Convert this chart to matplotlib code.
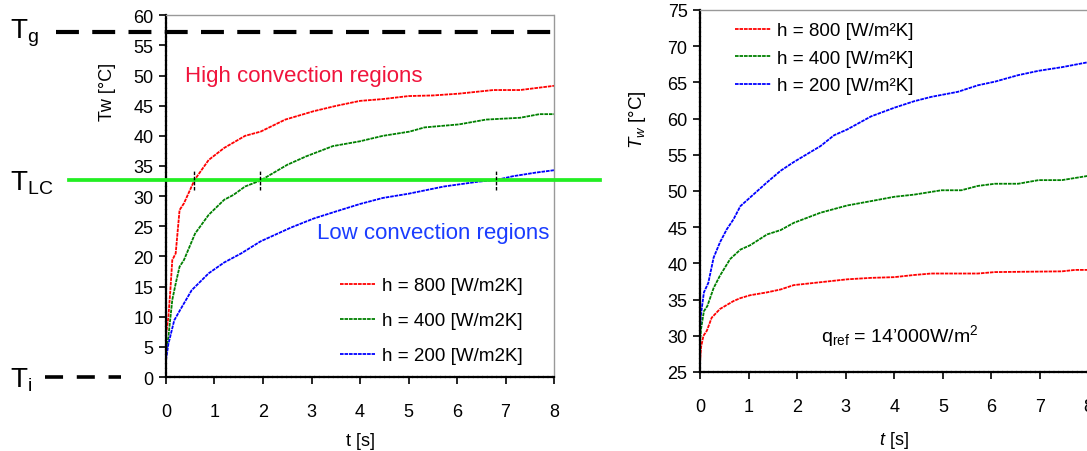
import numpy as np
import matplotlib
matplotlib.use('Agg')
import matplotlib.pyplot as plt

plt.rcParams['font.family'] = ['Liberation Sans', 'DejaVu Sans']
plt.rcParams['mathtext.fontset'] = 'custom'
plt.rcParams['mathtext.rm'] = 'Liberation Sans'
plt.rcParams['mathtext.it'] = 'Liberation Sans:italic'

# --- left: wall temperature vs time, three convection coefficients
t_800_l = [0, 0.05, 0.09, 0.13, 0.2, 0.28, 0.37, 0.59, 0.88, 1.2, 1.63, 1.95, 2.46,
           3.05, 3.52, 4.0, 4.47, 5.0, 5.5, 6.04, 6.75, 7.3, 8.0]
T_800_l = [7.0, 10.0, 14.4, 19.4, 20.5, 27.7, 28.8, 32.7, 36.0, 38.0, 40.0, 40.7, 42.7,
           44.1, 45.0, 45.8, 46.1, 46.6, 46.7, 47.0, 47.6, 47.6, 48.3]
t_400_l = [0, 0.05, 0.13, 0.2, 0.28, 0.37, 0.6, 0.88, 1.2, 1.39, 1.63, 1.95, 2.5, 2.89,
           3.44, 4.0, 4.47, 5.02, 5.33, 6.04, 6.6, 7.3, 7.7, 8.0]
T_400_l = [3.9, 6.7, 12.8, 15.5, 18.3, 19.4, 23.8, 26.9, 29.4, 30.2, 31.6, 32.6, 35.2, 36.6,
           38.3, 39.1, 40.0, 40.7, 41.4, 41.9, 42.7, 43.0, 43.6, 43.6]
t_200_l = [0, 0.05, 0.17, 0.29, 0.53, 0.88, 1.2, 1.55, 1.95, 2.58, 3.05, 3.52, 4.0, 4.47,
           5.0, 5.73, 6.44, 6.82, 7.15, 7.62, 8.0]
T_200_l = [2.8, 5.5, 9.4, 11.1, 14.4, 17.2, 19.0, 20.5, 22.5, 24.8, 26.3, 27.5, 28.7, 29.7,
           30.4, 31.6, 32.4, 32.7, 33.3, 33.9, 34.3]

T_g = 57.3
T_LC = 32.7
T_i = 0.0
t_cross = [0.58, 1.93, 6.8]

# --- right: constant heat flux case
t_800_r = [0, 0.02, 0.07, 0.14, 0.24, 0.41, 0.69, 0.83, 1.03, 1.38, 1.66, 1.93, 2.48, 3.03,
           3.52, 4.0, 4.41, 4.76, 5.72, 6.07, 7.45, 7.72, 8.0]
T_800_r = [26.3, 28.4, 30.0, 30.7, 32.5, 33.7, 34.8, 35.2, 35.6, 36.0, 36.4, 37.0, 37.4, 37.8,
           38.0, 38.1, 38.4, 38.6, 38.6, 38.8, 38.9, 39.1, 39.1]
t_400_r = [0, 0.02, 0.08, 0.15, 0.28, 0.41, 0.62, 0.83, 1.03, 1.38, 1.66, 1.93, 2.48, 3.03,
           3.52, 4.0, 4.41, 4.97, 5.38, 5.72, 6.07, 6.55, 6.97, 7.45, 8.0]
T_400_r = [29.0, 30.9, 33.4, 34.1, 36.6, 38.3, 40.6, 41.9, 42.5, 44.0, 44.6, 45.6, 47.0, 48.0,
           48.6, 49.2, 49.5, 50.1, 50.1, 50.7, 51.0, 51.0, 51.5, 51.5, 52.1]
t_200_r = [0, 0.02, 0.08, 0.17, 0.28, 0.41, 0.55, 0.69, 0.83, 1.03, 1.38, 1.66, 1.93, 2.48,
           2.76, 3.03, 3.52, 4.0, 4.41, 4.76, 5.31, 5.72, 6.07, 6.55, 6.97, 7.45, 8.0]
T_200_r = [30.9, 33.0, 36.0, 37.3, 40.8, 42.9, 44.7, 46.1, 47.9, 49.1, 51.2, 52.8, 54.0, 56.2,
           57.7, 58.5, 60.3, 61.5, 62.4, 63.0, 63.7, 64.6, 65.1, 66.0, 66.6, 67.1, 67.8]

labels_l = ['h = 800 [W/m2K]', 'h = 400 [W/m2K]', 'h = 200 [W/m2K]']
labels_r = ['h = 800 [W/m²K]', 'h = 400 [W/m²K]', 'h = 200 [W/m²K]']
colors = ['#ff0000', '#008000', '#0000ff']
ls_curve = (0, (2.0, 0.5))


def style_axes(ax):
    for s in ['left', 'bottom']:
        ax.spines[s].set_color('black')
        ax.spines[s].set_linestyle((0, (1.5, 0.6)))
        ax.spines[s].set_linewidth(1.6)
    for s in ['top', 'right']:
        ax.spines[s].set_color('#999999')
        ax.spines[s].set_linestyle((0, (1, 1)))
        ax.spines[s].set_linewidth(1.0)
    ax.tick_params(direction='out', length=5, width=1.2, labelsize=13, color='black')
    ax.tick_params(axis='x', pad=14)
    ax.tick_params(axis='y', pad=4)


fig = plt.figure(figsize=(10.87, 4.52), dpi=100)

ax1 = fig.add_axes([0.1527, 0.1637, 0.357, 0.8003])
for t, T, c, lab in zip([t_800_l, t_400_l, t_200_l], [T_800_l, T_400_l, T_200_l], colors, labels_l):
    ax1.plot(t, T, color=c, lw=1.3, ls=ls_curve, label=lab)
ax1.set_xlim(0, 8)
ax1.set_ylim(0, 60)
ax1.set_xticks(range(0, 9))
ax1.set_yticks(range(0, 61, 5))
style_axes(ax1)

# reference temperature levels drawn across and beyond the axes
ax1.plot([-2.26, 8.08], [T_g, T_g], color='black', lw=3.0, ls=(0, (5.5, 3.2)), clip_on=False)
ax1.plot([-2.0, 8.95], [T_LC, T_LC], color='#22ee22', lw=2.7, clip_on=False, zorder=3)
ax1.plot([-2.49, -0.92], [T_i, T_i], color='black', lw=2.6, ls=(0, (5.0, 3.8)), clip_on=False)
for tc in t_cross:
    ax1.plot([tc, tc], [T_LC - 1.6, T_LC + 1.6], color='black', lw=1.0,
             ls=(0, (2.5, 1.2)), zorder=4)

fig.text(10 / 1087, 1 - 33 / 452, r'$\mathregular{T_g}$', fontsize=20, va='center', ha='left')
fig.text(10 / 1087, 1 - 183 / 452, r'$\mathregular{T_{LC}}$', fontsize=20, va='center', ha='left')
fig.text(10 / 1087, 1 - 380 / 452, r'$\mathregular{T_i}$', fontsize=20, va='center', ha='left')

ax1.text(0.4, 50.0, 'High convection regions', color='#f0143c', fontsize=16, va='center')
ax1.text(3.12, 24.0, 'Low convection regions', color='#1a3cff', fontsize=16, va='center')

ax1.legend(loc='center left', bbox_to_anchor=(0.448, 0.156), frameon=False, fontsize=13.5,
           handlelength=1.9, handletextpad=0.35, labelspacing=0.95,
           borderpad=0, borderaxespad=0)
ax1.set_xlabel('t [s]', fontsize=13, labelpad=8)
ax1.set_ylabel('Tw [°C]', fontsize=13)
ax1.yaxis.set_label_coords(-0.13, 0.79)

ax2 = fig.add_axes([0.644, 0.1748, 0.3575, 0.8009])
for t, T, c, lab in zip([t_800_r, t_400_r, t_200_r], [T_800_r, T_400_r, T_200_r], colors, labels_r):
    ax2.plot(t, T, color=c, lw=1.3, ls=ls_curve, label=lab, clip_on=False)
ax2.set_xlim(0, 8)
ax2.set_ylim(25, 75)
ax2.set_xticks(range(0, 9))
ax2.set_yticks(range(25, 76, 5))
style_axes(ax2)
ax2.spines['right'].set_visible(False)

ax2.legend(loc='center left', bbox_to_anchor=(0.09, 0.867), frameon=False, fontsize=13.5,
           handlelength=1.9, handletextpad=0.35, labelspacing=0.55,
           borderpad=0, borderaxespad=0)
ax2.text(4.1, 30.1, r'$\mathregular{q_{ref}}$ = 14’000W/m$\mathregular{^2}$',
         fontsize=14, ha='center', va='center')
ax2.set_xlabel(r'$t$ [s]', fontsize=13, labelpad=10)
ax2.set_ylabel(r'$T_w$ [°C]', fontsize=13.5)
ax2.yaxis.set_label_coords(-0.135, 0.70)

fig.savefig('out.png', dpi=100)
